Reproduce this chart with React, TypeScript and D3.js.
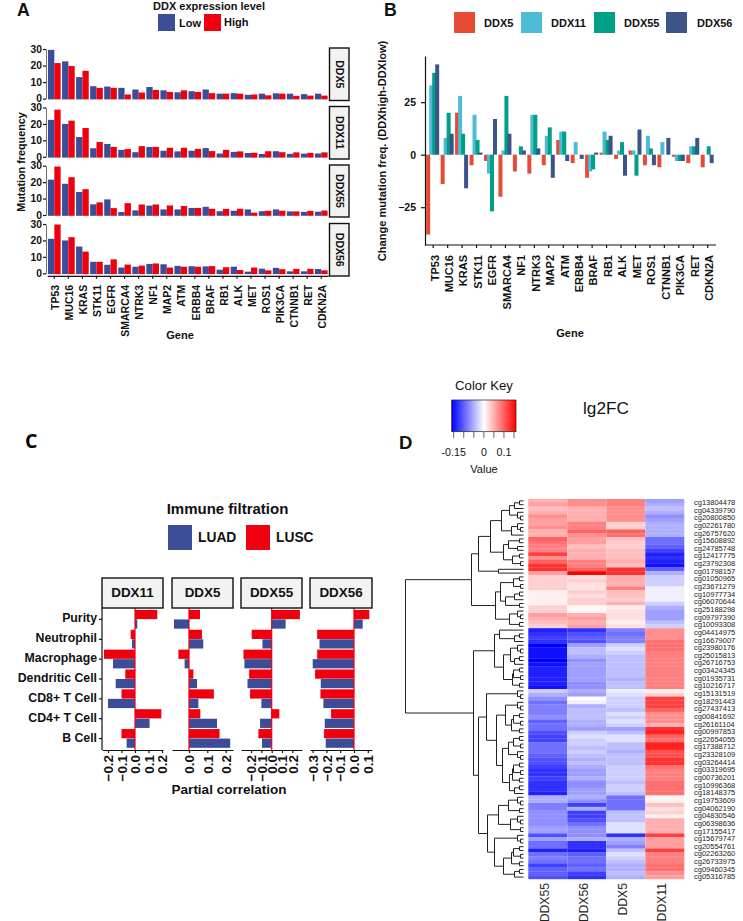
import React, { useRef, useEffect } from 'react';
import * as d3 from 'd3';

// Panel A
const genesA = ['TP53', 'MUC16', 'KRAS', 'STK11', 'EGFR', 'SMARCA4', 'NTRK3', 'NF1', 'MAP2', 'ATM', 'ERBB4', 'BRAF', 'RB1', 'ALK', 'MET', 'ROS1', 'PIK3CA', 'CTNNB1', 'RET', 'CDKN2A'];
const ddx5Low = [29.5, 22.5, 13, 7.5, 7.3, 6.5, 5.5, 7, 5, 3.8, 4.5, 5.5, 3, 3.3, 2.3, 3, 3.2, 3, 2.7, 3];
const ddx5High = [21.5, 19.7, 16.8, 6.5, 6.5, 2.5, 3.7, 5.2, 4, 5, 4, 3.3, 3, 3, 2.5, 2, 3, 1.7, 1.8, 1.8];
const ddx11Low = [22.5, 20, 12, 5.2, 7.8, 4.2, 2.8, 6, 3.7, 3.3, 3.7, 5.3, 2, 3, 2.3, 1.7, 3.4, 1.8, 1.9, 2];
const ddx11High = [28.7, 22, 17.5, 9, 6, 4.7, 6.5, 6, 5.5, 5.5, 4.8, 3.5, 4.2, 3.3, 2.5, 3.4, 2.8, 2.7, 2.4, 2.7];
const ddx55Low = [21.5, 19, 14, 6.5, 9.5, 1.8, 2.8, 5.7, 3.4, 3.4, 4.3, 5, 2.3, 2.6, 3.4, 2.3, 3.4, 2.2, 1.9, 2];
const ddx55High = [29.5, 23, 15.7, 7.7, 4.2, 7.2, 6.4, 6.4, 5.8, 5.5, 4.3, 3.8, 3.7, 3.8, 1.4, 2.6, 2.6, 2.2, 2.5, 2.7];
const ddx56Low = [21, 20, 16.3, 7, 5.2, 3.5, 4, 5.7, 5.5, 4.5, 4.3, 4.2, 2.2, 4, 1, 2.8, 3.3, 1.2, 1.2, 2.6];
const ddx56High = [29.7, 22, 13.2, 7, 8.5, 5.3, 4.7, 6, 3.5, 4, 4, 4.4, 3.7, 2, 3.5, 1.8, 2.5, 2.7, 2.7, 1.8];

// Panel B
const genesB = ['TP53', 'MUC16', 'KRAS', 'STK11', 'EGFR', 'SMARCA4', 'NF1', 'NTRK3', 'MAP2', 'ATM', 'ERBB4', 'BRAF', 'RB1', 'ALK', 'MET', 'ROS1', 'CTNNB1', 'PIK3CA', 'RET', 'CDKN2A'];
const changeDdx5 = [-38, -14, 20, -5, -3, -20, -8, -9, -5, 7, -4, -11, 1, -2, 2, -5, -6, -1, -4, -6];
const changeDdx11 = [33, 8, 28, 19, -9, 2, 0, 19, 9, 11, 6, -8, 11, 2, 2, 9, 6, -3, 4, 0];
const changeDdx55 = [39, 20, 10, 7, -27, 28, 4, 19, 13, 11, 0, -7, 7, 6, -10, 3, 0, -3, 4, 4];
const changeDdx56 = [43, 10, -16, 1, 17, 10, 2, 3, -11, -3, -2, 1, 9, -10, 12, -5, 8, -3, 8, -4];

// Panel C
const cellTypes = ['Purity', 'Neutrophil', 'Macrophage', 'Dendritic Cell', 'CD8+ T Cell', 'CD4+ T Cell', 'B Cell'];
const lusc11 = [0.165, -0.032, -0.23, -0.072, -0.1, 0.195, -0.1];
const luad11 = [0.017, -0.022, -0.163, -0.143, -0.2, 0.108, -0.062];
const lusc5 = [0.06, 0.071, -0.058, 0.024, 0.136, 0.062, 0.167];
const luad5 = [-0.082, 0.078, -0.024, 0.044, 0.051, 0.153, 0.225];
const lusc55 = [0.274, -0.194, -0.274, -0.219, -0.21, 0.074, -0.129];
const luad55 = [0.135, -0.09, -0.265, -0.235, -0.1, -0.113, -0.094];
const lusc56 = [0.111, -0.267, -0.267, -0.282, -0.243, -0.166, -0.217];
const luad56 = [0.063, -0.25, -0.299, -0.241, -0.222, -0.212, -0.205];

// Panel D
const probes = ['cg13804478', 'cg04339790', 'cg20800850', 'cg02261780', 'cg26757620', 'cg15608892', 'cg24785748', 'cg12417775', 'cg23792308', 'cg01798157', 'cg01050965', 'cg23671279', 'cg10977734', 'cg06070644', 'cg25188298', 'cg09797390', 'cg10093308', 'cg04414975', 'cg16679007', 'cg23980176', 'cg25015813', 'cg26716753', 'cg03424345', 'cg01935731', 'cg10216717', 'cg15131519', 'cg18291443', 'cg27437413', 'cg00841692', 'cg26161104', 'cg00997853', 'cg22654055', 'cg17388712', 'cg23328109', 'cg03264414', 'cg03319695', 'cg00736201', 'cg10996368', 'cg18148375', 'cg19753609', 'cg04062190', 'cg04830546', 'cg06398636', 'cg17155417', 'cg15679747', 'cg20554761', 'cg02263260', 'cg26733975', 'cg09460345', 'cg05316785'];
const heatColumns = ['DDX55', 'DDX56', 'DDX5', 'DDX11'];
const lfcDdx55 = [.05, .06, .04, .05, .07, .06, .06, .07, .05, .05, .1, .09, .08, .08, .12, .07, .1, .13, .13, .06,
  .03, .03, .03, .03, .01, .01, .01, .01, .03, .03, .06, .05, .04, .03,
  -.14, -.13, -.12, -.13, -.16, -.15, -.15, -.15, -.16, -.15, -.14, -.14, -.14, -.14, -.14, -.15,
  -.03, -.05, -.07, -.09, -.08, -.08, -.08, -.07, -.1, -.09, -.09, -.11, -.12, -.12, -.09, -.09, -.09, -.1,
  -.11, -.11, -.12, -.13, -.13, -.12, -.13, -.13, -.13, -.14,
  -.05, -.05, -.08, -.08, -.07, -.07, -.07, -.07, -.06, -.06, -.11, -.06, -.09, -.09, -.14, -.09, -.08, -.09, -.12, -.1, -.1, -.11];
const lfcDdx56 = [.07, .07, .05, .05, .05, .05, .08, .08, .1, .07, .06, .06, .04, .05, .05, .05, .08, .08, .1, .16,
  .02, .03, .02, .02, .03, .02, .03, .03, .005, .005, .05, .06, .05, .06,
  -.13, -.11, -.1, -.11, -.06, -.04, -.04, -.05, -.07, -.06, -.06, -.06, -.06, -.06, -.07, -.07,
  -.05, -.06, 0, -.01, -.05, -.04, -.04, -.04, -.05, -.05, -.06, -.03, -.02, -.03, -.03, -.04, -.03, -.04,
  -.05, -.04, -.05, -.06, -.06, -.05, -.07, -.07, -.06, -.06,
  -.05, -.07, -.12, -.05, -.12, -.12, -.11, -.09, -.07, -.07, -.07, -.05, -.13, -.13, -.14, -.1, -.09, -.09, -.1, -.09, -.12, -.13];
const lfcDdx5 = [.08, .08, .07, .07, .07, .07, .03, .03, .1, .09, .04, .03, .03, .04, .04, .04, .05, .04, .13, .13,
  .05, .05, .05, .08, .04, .04, .03, .05, .01, .02, .02, .02, .01, .02,
  -.08, -.09, -.08, -.08, -.03, -.02, -.03, -.04, -.04, -.04, -.04, -.04, -.04, -.05, -.04, -.04,
  -.01, -.02, -.03, -.03, -.03, -.04, -.02, -.03, -.02, -.03, -.06, -.04, -.02, -.02, -.04, -.04, -.05, -.04,
  -.04, -.04, -.03, -.03, -.03, -.03, -.04, -.03, -.03, -.04,
  -.09, -.09, -.09, -.09, -.04, -.04, -.04, -.02, -.02, -.02, -.13, -.05, -.06, -.08, -.04, -.02, -.03, -.04, -.05, -.05, -.04, -.05];
const lfcDdx11 = [-.06, -.05, -.04, -.05, -.07, -.06, -.05, -.05, -.05, -.05, -.09, -.09, -.1, -.12, -.14, -.13, -.14, -.15, -.1, -.05,
  -.03, -.03, -.03, -.01, -.01, -.01, -.01, -.03, -.05, -.06, -.06, -.06, -.04, -.03,
  .07, .07, .07, .09, .09, .09, .08, .08, .08, .08, .08, .08, .08, .08, .08, .08,
  .01, .03, .12, .12, .12, .1, .07, .07, .07, .05, .13, .14, .1, .09, .14, .14, .11, .11,
  .13, .13, .09, .08, .08, .08, .09, .09, .09, .09,
  .005, .01, .04, .02, .03, .01, .05, .05, .05, .05, .12, .06, .06, .06, .12, .08, .08, .08, .09, .09, .07, .06];
const keyTicks = [-0.15, -0.1, -0.05, 0, 0.05, 0.1, 0.15];
const keyLabels = [-0.15, 0, 0.1];

// Row dendrogram: node = [merge height, left, right], leaf = 0
const p2 = [3, 0, 0];
const p3 = [4, 0, 0];
const t4 = [6, 0, p2];
const t6 = [9, p3, 0];
const q6 = [10, p3, p2];
const q8 = [12, t4, 0];
const rowTree = [118,
  [52,
    [45,
      [33,
        [22, [14, t6, t4], q8],
        [20, [15, p3, [6, 0, 0]], [11, p3, p2]]],
      [25, 0, 0]],
    [28,
      [23, q6, [18, t6, p3]],
      [14, t4, p3]]],
  [50,
    [29,
      [24, 0, t6],
      [20, [13, t4, t6], [11, q6, p3]]],
    [45,
      [37,
        t4,
        [27,
          [18, t4, [12, q6, p3]],
          [21, [15, q6, t4], [14, [11, q6, p3], t6]]]],
      [36,
        [25, [15, t4, p3], [13, t4, p2]],
        [29, t4, [20, [12, q6, p3], t6]]]]]];

const BLUE = '#3B4D99';
const RED = '#F0000F';
const FONT = '"Liberation Sans", Arial, sans-serif';

const App = () => {
  const svgRef = useRef<SVGSVGElement>(null);

  useEffect(() => {
    const svg = d3.select(svgRef.current);
    svg.selectAll('*').remove();

    const text = (x, y, s, size, weight = 'bold', anchor = 'start', rotate = 0) =>
      svg.append('text')
        .attr('transform', `translate(${x},${y}) rotate(${rotate})`)
        .attr('text-anchor', anchor)
        .attr('font-size', size)
        .attr('font-weight', weight)
        .attr('font-family', FONT)
        .attr('fill', '#111')
        .text(s);

    const square = (x, y, w, h, fill) =>
      svg.append('rect').attr('x', x).attr('y', y).attr('width', w).attr('height', h).attr('fill', fill);

    const styleAxis = (g, size) => {
      g.selectAll('path,line').attr('stroke', '#111').attr('stroke-width', 1.2);
      g.selectAll('text')
        .attr('font-size', size)
        .attr('font-weight', 'bold')
        .attr('font-family', FONT)
        .attr('fill', '#111');
    };

    // Panel letters
    text(17, 16, 'A', 17.7);
    text(384, 16, 'B', 17.7);
    svg.append('text').attr('x', 25).attr('y', 448).attr('font-size', 19.5).attr('font-weight', 'bold')
      .attr('font-family', '"Open Sans", sans-serif').text('C');
    text(399, 449, 'D', 18.5);

    // ---------- Panel A ----------
    text(209, 10, 'DDX expression level', 11, 'bold', 'middle');
    square(158, 14, 17, 17, BLUE);
    text(179, 27, 'Low', 11);
    square(204, 14, 17, 17, RED);
    text(224, 26, 'High', 11);

    const xA = d3.scaleBand().domain(genesA).range([47.3, 328.3]).paddingInner(0.1).paddingOuter(0.05);
    const facetsA = [
      { name: 'DDX5', low: ddx5Low, high: ddx5High, top: 49, bottom: 98.6, boxTop: 48, boxBottom: 100.5 },
      { name: 'DDX11', low: ddx11Low, high: ddx11High, top: 107.5, bottom: 156.8, boxTop: 106.5, boxBottom: 159 },
      { name: 'DDX55', low: ddx55Low, high: ddx55High, top: 165.7, bottom: 215, boxTop: 165, boxBottom: 217 },
      { name: 'DDX56', low: ddx56Low, high: ddx56High, top: 224, bottom: 273.3, boxTop: 223.5, boxBottom: 276 },
    ];
    facetsA.forEach(f => {
      const y = d3.scaleLinear().domain([0, 30]).range([f.bottom, f.top]);
      const barW = xA.bandwidth() / 2;
      const g = svg.append('g');
      g.selectAll('.low').data(f.low).join('rect')
        .attr('x', (_, i) => xA(genesA[i]))
        .attr('y', d => y(d)).attr('width', barW).attr('height', d => f.bottom + 0.8 - y(d)).attr('fill', BLUE);
      g.selectAll('.high').data(f.high).join('rect')
        .attr('x', (_, i) => xA(genesA[i]) + barW)
        .attr('y', d => y(d)).attr('width', barW).attr('height', d => f.bottom + 0.8 - y(d)).attr('fill', RED);
      const axis = svg.append('g').attr('transform', 'translate(46,0)')
        .call(d3.axisLeft(y).tickValues([0, 10, 20, 30]).tickSize(3).tickPadding(1).tickSizeOuter(0));
      styleAxis(axis, 10.3);
      axis.select('.domain').attr('stroke-width', 0.6);
      svg.append('rect').attr('x', 329.5).attr('y', f.boxTop).attr('width', 19.5).attr('height', f.boxBottom - f.boxTop)
        .attr('fill', '#f2f2f2').attr('stroke', '#111').attr('stroke-width', 1.4);
      text(339.5, (f.boxTop + f.boxBottom) / 2, f.name, 10.5, 'bold', 'middle', 90)
        .attr('dominant-baseline', 'central');
    });
    const axisA = svg.append('g').attr('transform', 'translate(0,275.8)')
      .call(d3.axisBottom(xA).tickSize(3).tickSizeOuter(0));
    styleAxis(axisA, 10.5);
    axisA.selectAll('text')
      .attr('y', 0).attr('x', 0).attr('dy', '0.35em').attr('text-anchor', 'end')
      .attr('transform', 'translate(1,9) rotate(-90)');
    text(180, 339, 'Gene', 11, 'bold', 'middle');
    text(24.5, 162, 'Mutation frequency', 10.8, 'bold', 'middle', -90);

    // ---------- Panel B ----------
    const seriesB = [
      { name: 'DDX5', values: changeDdx5, color: '#E64B35', lx: 454, tx: 484 },
      { name: 'DDX11', values: changeDdx11, color: '#4DBBD5', lx: 521, tx: 551 },
      { name: 'DDX55', values: changeDdx55, color: '#00A087', lx: 594, tx: 624 },
      { name: 'DDX56', values: changeDdx56, color: '#3C5488', lx: 666, tx: 697 },
    ];
    const xB = d3.scalePoint().domain(genesB).range([432.7, 707.2]);
    const yB = d3.scaleLinear().domain([-43, 47]).range([245, 56]);
    seriesB.forEach((s, k) => {
      square(s.lx, 12, 21, 21, s.color);
      text(s.tx, 26.5, s.name, 11);
      svg.append('g').selectAll('rect').data(s.values).join('rect')
        .attr('x', (_, i) => xB(genesB[i]) + (k - 1.5) * 3 - 2)
        .attr('y', d => Math.min(yB(d), yB(0)))
        .attr('width', 4)
        .attr('height', d => Math.abs(yB(d) - yB(0)))
        .attr('fill', s.color);
    });
    const axisBy = svg.append('g').attr('transform', 'translate(425,0)')
      .call(d3.axisLeft(yB).tickValues([-25, 0, 25]).tickFormat(d3.format('d')).tickSize(4).tickPadding(5).tickSizeOuter(0));
    styleAxis(axisBy, 10.5);
    const axisBx = svg.append('g').attr('transform', 'translate(0,245)')
      .call(d3.axisBottom(xB).tickSize(3).tickSizeOuter(0));
    styleAxis(axisBx, 11);
    axisBx.select('.domain').attr('d', 'M425,0H716');
    axisBx.selectAll('text')
      .attr('y', 0).attr('x', 0).attr('dy', '0.35em').attr('text-anchor', 'end')
      .attr('transform', 'translate(1.5,10) rotate(-90)');
    text(570, 337, 'Gene', 11, 'bold', 'middle');
    text(386, 151, 'Change mutation freq. (DDXhigh-DDXlow)', 11.1, 'bold', 'middle', -90);

    // ---------- Panel C ----------
    text(227.5, 514, 'Immune filtration', 15, 'bold', 'middle');
    square(168, 525, 24, 25, BLUE);
    text(198, 542, 'LUAD', 13.8);
    square(246, 525, 24, 25, RED);
    text(276, 542, 'LUSC', 13.8);

    const yC = d3.scaleBand().domain(cellTypes).range([609.5, 748.5]).paddingInner(0.04).paddingOuter(0.02);
    const facetsC = [
      { name: 'DDX11', lusc: lusc11, luad: luad11, x0: 102, x1: 163, zero: 135, unit: 135, ticks: [-0.2, -0.1, 0, 0.1, 0.2] },
      { name: 'DDX5', lusc: lusc5, luad: luad5, x0: 172, x1: 233, zero: 189, unit: 183, ticks: [0, 0.1, 0.2] },
      { name: 'DDX55', lusc: lusc55, luad: luad55, x0: 241, x1: 302, zero: 271.7, unit: 103, ticks: [-0.2, -0.1, 0, 0.1, 0.2] },
      { name: 'DDX56', lusc: lusc56, luad: luad56, x0: 310, x1: 372, zero: 354, unit: 138, ticks: [-0.3, -0.2, -0.1, 0, 0.1] },
    ];
    facetsC.forEach(f => {
      const x = d3.scaleLinear()
        .domain([(f.x0 - f.zero) / f.unit, (f.x1 - f.zero) / f.unit])
        .range([f.x0, f.x1]);
      const barH = yC.bandwidth() / 2;
      const g = svg.append('g');
      g.selectAll('.lusc').data(f.lusc).join('rect')
        .attr('x', d => Math.min(x(d), x(0))).attr('y', (_, i) => yC(cellTypes[i]))
        .attr('width', d => Math.abs(x(d) - x(0))).attr('height', barH - 0.3).attr('fill', RED);
      g.selectAll('.luad').data(f.luad).join('rect')
        .attr('x', d => Math.min(x(d), x(0))).attr('y', (_, i) => yC(cellTypes[i]) + barH)
        .attr('width', d => Math.abs(x(d) - x(0))).attr('height', barH - 0.3).attr('fill', BLUE);
      svg.append('line').attr('x1', x(0)).attr('x2', x(0)).attr('y1', 608).attr('y2', 750)
        .attr('stroke', RED).attr('stroke-width', 1.2);
      svg.append('rect').attr('x', f.x0).attr('y', 578).attr('width', f.x1 - f.x0).attr('height', 30)
        .attr('fill', '#f2f2f2').attr('stroke', '#111').attr('stroke-width', 1.4);
      text((f.x0 + f.x1) / 2, 597, f.name, 13.4, 'bold', 'middle');
      const axis = svg.append('g').attr('transform', 'translate(0,750)')
        .call(d3.axisBottom(x).tickValues(f.ticks).tickFormat(d3.format('.1f')).tickSize(3).tickSizeOuter(0));
      styleAxis(axis, 13.4);
      axis.selectAll('text')
        .attr('y', 0).attr('x', 0).attr('dy', '0.35em').attr('text-anchor', 'end')
        .attr('transform', 'translate(0,5) rotate(-90)');
    });
    const axisCy = svg.append('g').attr('transform', 'translate(102,0)')
      .call(d3.axisLeft(yC).tickSize(3).tickPadding(2).tickSizeOuter(0));
    styleAxis(axisCy, 12.3);
    axisCy.select('.domain').attr('d', 'M0,608V750');
    axisCy.selectAll('text').attr('y', -1);
    text(229, 793.5, 'Partial correlation', 13.5, 'bold', 'middle');

    // ---------- Panel D ----------
    const color = d3.scaleLinear<string>().domain([-0.16, 0, 0.16]).range(['#0000ff', '#ffffff', '#ff0000']);
    const xKey = d3.scaleLinear().domain([-0.16, 0.16]).range([451.7, 516]);
    const gradient = svg.append('defs').append('linearGradient').attr('id', 'key');
    [-0.16, 0, 0.16].forEach(v => {
      gradient.append('stop').attr('offset', `${((v + 0.16) / 0.32) * 100}%`).attr('stop-color', color(v));
    });
    svg.append('rect').attr('x', 451.7).attr('y', 400).attr('width', 64.3).attr('height', 31.7)
      .attr('fill', 'url(#key)').attr('stroke', '#222').attr('stroke-width', 0.7);
    svg.append('g').selectAll('line').data(keyTicks).join('line')
      .attr('x1', d => xKey(d)).attr('x2', d => xKey(d)).attr('y1', 432).attr('y2', 438)
      .attr('stroke', '#222').attr('stroke-width', 0.7);
    keyLabels.forEach(v => text(xKey(v), 455.5, String(v), 10.7, 'normal', 'middle'));
    text(484, 390, 'Color Key', 13.2, 'normal', 'middle');
    text(484, 473, 'Value', 11, 'normal', 'middle');
    text(583, 414, 'lg2FC', 17.2, 'normal');

    const rows = d3.range(lfcDdx55.length);
    const xHeat = d3.scaleBand().domain(heatColumns).range([528.3, 684.3]);
    const yHeat = d3.scaleBand().domain(rows.map(String)).range([499, 879]);
    [lfcDdx55, lfcDdx56, lfcDdx5, lfcDdx11].forEach((vals, c) => {
      svg.append('g').selectAll('rect').data(vals).join('rect')
        .attr('x', xHeat(heatColumns[c]))
        .attr('y', (_, i) => yHeat(String(i)))
        .attr('width', xHeat.bandwidth())
        .attr('height', yHeat.bandwidth() + 0.2)
        .attr('fill', d => color(d));
    });
    probes.forEach((p, i) => {
      text(694, 502.3 + i * 7.64 + 2.7, p, 7.5, 'normal').attr('fill', '#222');
    });
    heatColumns.forEach(c => {
      text(xHeat(c) + xHeat.bandwidth() / 2 - 3, 883, c, 12.2, 'normal', 'end', -90)
        .attr('dominant-baseline', 'central').attr('fill', '#222');
    });

    // Dendrogram
    const root = d3.hierarchy(rowTree, n => (Array.isArray(n) ? n.slice(1) : null));
    const xTree = d3.scaleLinear().domain([0, 118]).range([523.5, 405.5]);
    let leafIndex = 0;
    root.eachAfter(n => {
      if (n.children) {
        n.py = (n.children[0].py + n.children[1].py) / 2;
        n.px = xTree(n.data[0]);
      } else {
        n.py = yHeat(String(leafIndex)) + yHeat.bandwidth() / 2;
        n.px = xTree(0);
        leafIndex += 1;
      }
    });
    const path = d3.path();
    root.each(n => {
      if (!n.children) return;
      const [a, b] = n.children;
      path.moveTo(a.px, a.py);
      path.lineTo(n.px, a.py);
      path.lineTo(n.px, b.py);
      path.lineTo(b.px, b.py);
    });
    svg.append('path').attr('d', path.toString()).attr('fill', 'none').attr('stroke', '#222').attr('stroke-width', 1);
  }, []);

  return <svg ref={svgRef} width={743} height={921} style={{ position: 'absolute', left: 0, top: 0, background: '#fff' }} />;
};

export default App;
